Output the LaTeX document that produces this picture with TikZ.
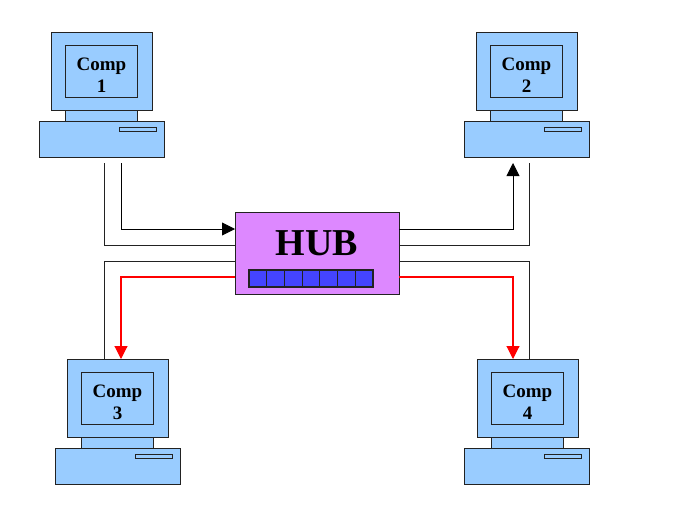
\documentclass[tikz,border=0pt]{standalone}
\usepackage{fontspec}
\setmainfont{Liberation Serif}
\usetikzlibrary{arrows.meta}
\definecolor{compblue}{HTML}{99CCFF}
\definecolor{hubpink}{HTML}{DD88FF}
\definecolor{portblue}{HTML}{4444FF}
\definecolor{edge}{HTML}{222222}
\tikzset{
  x=1pt,y=-1pt,
  part/.style={draw=edge,line width=.95pt,fill=compblue,inner sep=0pt,outer sep=0pt,anchor=north west},
  wire/.style={draw=edge,line width=.95pt},
  blackarrow/.style={wire,draw=black,-{Triangle[length=13pt,width=13pt]}},
  redarrow/.style={draw=red,line width=1.1pt,-{Triangle[length=13pt,width=13pt,fill=red]}},
  complabel/.style={font=\fontsize{19}{22}\selectfont\bfseries,align=center,inner sep=0pt},
  portcell/.style={draw=edge,line width=1.1pt,fill=portblue,inner sep=0pt,outer sep=0pt,anchor=north west,minimum width=17.7pt,minimum height=17pt},
}
% name, monitor x, base x, top y, label number
\newcommand{\compunit}[5]{%
  \node[part,minimum width=72pt,minimum height=11pt] (#1neck) at (#2+14,#4+78) {};
  \node[part,minimum width=125pt,minimum height=36pt] (#1base) at (#3,#4+89) {};
  \node[part,minimum width=37pt,minimum height=4pt] (#1slot) at (#3+80,#4+95) {};
  \node[part,minimum width=101pt,minimum height=78pt] (#1mon) at (#2,#4) {};
  \node[part,minimum width=72pt,minimum height=52pt] (#1scr) at (#2+14,#4+13) {};
  \node[complabel] (#1txt) at (#2+50.5,#4+43) {Comp\\#5};
}
\begin{document}
\begin{tikzpicture}
\useasboundingbox (0,0) rectangle (688,514);
\fill[white] (0,0) rectangle (688,514);
\compunit{a}{51}{39}{32}{1}
\compunit{b}{476}{464}{32}{2}
\compunit{c}{67}{55}{359}{3}
\compunit{d}{477}{464}{359}{4}
\node[draw=edge,line width=.95pt,fill=hubpink,inner sep=0pt,outer sep=0pt,anchor=north west,minimum width=164pt,minimum height=82pt] (hub) at (235,212) {};
\node[font=\fontsize{38}{40}\selectfont\bfseries,inner sep=0pt] (hubtxt) at (317,243) {HUB};
\foreach \i in {0,...,6}{
  \node[portcell] (port\i) at (249+17.72*\i,270) {};
}
\coordinate (aout) at (104,163);
\coordinate (ain) at (121,163);
\coordinate (bout) at (529,163);
\coordinate (bin) at (513,163);
\coordinate (cout) at (104,359);
\coordinate (cin) at (121,359);
\coordinate (dout) at (529,359);
\coordinate (din) at (513,359);
\coordinate (hl1) at (235,229);
\coordinate (hl2) at (235,245);
\coordinate (hl3) at (235,261);
\coordinate (hl4) at (235,277);
\coordinate (hr1) at (399,229);
\coordinate (hr2) at (399,245);
\coordinate (hr3) at (399,261);
\coordinate (hr4) at (399,277);
\draw[blackarrow] (ain) |- (hl1);
\draw[wire] (aout) |- (hl2);
\draw[wire] (hl3) -| (cout);
\draw[redarrow] (hl4) -| (cin);
\draw[blackarrow] (hr1) -| (bin);
\draw[wire] (hr2) -| (bout);
\draw[wire] (hr3) -| (dout);
\draw[redarrow] (hr4) -| (din);
\end{tikzpicture}
\end{document}
